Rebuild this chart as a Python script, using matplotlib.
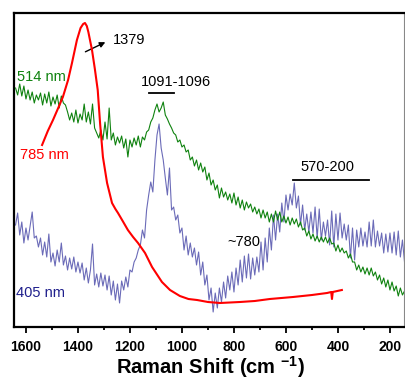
import numpy as np
import matplotlib
matplotlib.use("Agg")
import matplotlib.pyplot as plt

plt.rcParams['font.family'] = ['Liberation Sans', 'DejaVu Sans']
plt.rcParams['mathtext.fontset'] = 'custom'
plt.rcParams['mathtext.rm'] = 'Liberation Sans'
plt.rcParams['mathtext.bf'] = 'Liberation Sans:bold'

# raman shift grid (cm-1) shared by the 514 nm and 405 nm spectra
shift = [1640, 1632, 1624, 1616, 1608, 1600, 1592, 1584, 1576, 1568,
         1560, 1552, 1544, 1536, 1528, 1520, 1512, 1504, 1496, 1488,
         1480, 1472, 1464, 1456, 1448, 1440, 1432, 1424, 1416, 1408,
         1400, 1392, 1384, 1376, 1368, 1360, 1352, 1344, 1336, 1328,
         1320, 1312, 1304, 1296, 1288, 1280, 1272, 1264, 1256, 1248,
         1240, 1232, 1224, 1216, 1208, 1200, 1192, 1184, 1176, 1168,
         1160, 1152, 1144, 1136, 1128, 1120, 1112, 1104, 1096, 1088,
         1080, 1072, 1064, 1056, 1048, 1040, 1032, 1024, 1016, 1008,
         1000, 992, 984, 976, 968, 960, 952, 944, 936, 928,
         920, 912, 904, 896, 888, 880, 872, 864, 856, 848,
         840, 832, 824, 816, 808, 800, 792, 784, 776, 768,
         760, 752, 744, 736, 728, 720, 712, 704, 696, 688,
         680, 672, 664, 656, 648, 640, 632, 624, 616, 608,
         600, 592, 584, 576, 568, 560, 552, 544, 536, 528,
         520, 512, 504, 496, 488, 480, 472, 464, 456, 448,
         440, 432, 424, 416, 408, 400, 392, 384, 376, 368,
         360, 352, 344, 336, 328, 320, 312, 304, 296, 288,
         280, 272, 264, 256, 248, 240, 232, 224, 216, 208,
         200, 192, 184, 176, 168, 160, 152, 144]

green_514 = [239, 232, 243, 231, 241, 228, 237, 227, 235, 224,
             232, 227, 234, 222, 233, 224, 235, 221, 230, 223,
             232, 219, 231, 224, 222, 215, 207, 214, 205, 217,
             204, 213, 207, 223, 205, 215, 203, 223, 199, 194,
             189, 197, 187, 205, 188, 219, 187, 194, 182, 190,
             184, 191, 179, 188, 170, 187, 180, 189, 182, 191,
             180, 190, 187, 195, 197, 205, 209, 217, 223, 215,
             219, 225, 212, 208, 203, 199, 194, 192, 185, 187,
             180, 182, 175, 177, 167, 170, 161, 167, 157, 164,
             155, 160, 147, 154, 142, 147, 137, 142, 129, 139,
             130, 135, 127, 133, 124, 134, 122, 130, 119, 127,
             117, 125, 119, 123, 115, 120, 113, 118, 109, 117,
             109, 115, 105, 113, 105, 116, 107, 115, 105, 111,
             104, 110, 102, 109, 103, 108, 100, 105, 97, 99,
             91, 96, 88, 93, 86, 91, 85, 90, 85, 90,
             84, 89, 83, 84, 76, 82, 75, 79, 74, 76,
             69, 73, 65, 65, 57, 62, 55, 60, 53, 59,
             52, 59, 51, 55, 47, 52, 43, 49, 40, 47,
             37, 45, 36, 41, 31, 39, 32, 36]

blue_405 = [102, 114, 92, 105, 84, 99, 87, 101, 115, 89,
            91, 80, 89, 72, 85, 70, 93, 65, 74, 61,
            77, 65, 84, 62, 71, 57, 69, 58, 70, 55,
            65, 54, 64, 47, 59, 44, 57, 83, 42, 53,
            40, 54, 41, 52, 37, 51, 32, 46, 27, 43,
            24, 46, 37, 50, 40, 57, 55, 65, 69, 77,
            82, 97, 89, 117, 132, 145, 135, 167, 192, 203,
            179, 167, 149, 132, 159, 117, 120, 107, 112, 94,
            99, 77, 91, 72, 84, 70, 79, 62, 75, 52,
            65, 42, 52, 27, 39, 15, 34, 19, 39, 25,
            45, 29, 51, 37, 55, 35, 59, 42, 67, 45,
            71, 49, 73, 48, 69, 52, 70, 55, 85, 57,
            89, 65, 99, 77, 112, 87, 113, 95, 124, 105,
            132, 117, 133, 122, 144, 119, 131, 102, 122, 97,
            113, 95, 115, 94, 120, 89, 118, 87, 105, 91,
            107, 82, 116, 80, 113, 87, 114, 89, 103, 87,
            102, 69, 99, 67, 97, 80, 99, 81, 95, 80,
            105, 81, 107, 80, 96, 81, 94, 74, 93, 75,
            94, 74, 95, 72, 96, 70, 87, 65]

# 785 nm spectrum, smoother and shorter range
red_shift = [1538, 1516, 1496, 1476, 1458, 1438, 1423, 1404, 1390, 1380,
             1373, 1366, 1360, 1346, 1335, 1324, 1315, 1304, 1288, 1269,
             1256, 1246, 1228, 1208, 1188, 1169, 1142, 1115, 1077, 1046,
             1008, 975, 942, 900, 854, 777, 720, 662, 573, 500,
             442, 426, 423, 420, 385]
red_785 = [182, 196, 207, 219, 230, 247, 264, 287, 299, 303,
           304, 301, 295, 277, 258, 237, 204, 170, 144, 124,
           118, 114, 106, 97, 90, 84, 74, 60, 45, 37,
           31, 28, 27, 25, 24, 25, 26, 28, 30, 32,
           34, 35, 28, 35, 37]

fig = plt.figure(figsize=(4.05, 3.88), dpi=100)
ax = fig.add_axes([14/405, 61/388, 390/405, 314/388])

ax.plot(shift, blue_405, color='#6b6bb8', lw=0.8, zorder=2)
ax.plot(shift, green_514, color='#0f820f', lw=0.8, zorder=3)
ax.plot(red_shift, red_785, color='#ff0000', lw=1.5, zorder=4)

ax.set_xlim(1646, 146)
ax.set_ylim(0, 314)

ax.set_xticks([1600, 1400, 1200, 1000, 800, 600, 400, 200])
ax.set_xticks(np.arange(1500, 100, -200), minor=True)
ax.tick_params(axis='x', which='major', direction='out', length=4.5, width=1.3,
               labelsize=10, pad=5)
ax.tick_params(axis='x', which='minor', direction='out', length=2.5, width=1.3)
for lab in ax.get_xticklabels():
    lab.set_fontweight('bold')
ax.set_yticks([])

for side in ['left', 'bottom', 'top']:
    ax.spines[side].set_linewidth(1.6)
ax.spines['right'].set_linewidth(0.8)
ax.spines['right'].set_color('#888888')

fig.text(210/405, 14/388, r'Raman Shift (cm $^{\mathbf{-1}}$)', fontsize=14.5,
         fontweight='bold', ha='center', va='baseline')

# labels and annotations
ax.text(1635, 250, '514 nm', color='#0f820f', fontsize=10.5, va='center')
ax.text(1623, 172, '785 nm', color='#ff0000', fontsize=10.5, va='center')
ax.text(1638, 34, '405 nm', color='#1f1f8c', fontsize=10.5, va='center')
ax.text(1265, 287, '1379', color='black', fontsize=10.5, va='center')
ax.annotate('', xy=(1285, 286), xytext=(1381, 274),
            arrowprops=dict(arrowstyle='-|>', color='black', lw=1.0,
                            mutation_scale=8))
ax.text(1023, 245, '1091-1096', color='black', fontsize=10.5, ha='center', va='center')
ax.plot([1127, 1031], [234, 234], color='black', lw=1.3)
ax.text(442, 160, '570-200', color='black', fontsize=10.5, ha='center', va='center')
ax.plot([573, 281], [147, 147], color='black', lw=1.3)
ax.text(762, 85, '~780', color='black', fontsize=10.5, ha='center', va='center')

fig.savefig('out.png', dpi=100)
